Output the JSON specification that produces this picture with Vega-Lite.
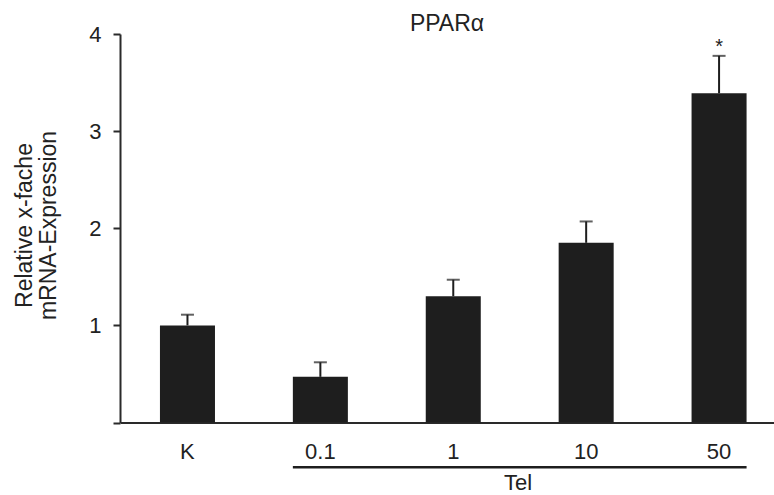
{
  "$schema": "https://vega.github.io/schema/vega-lite/v6.json",
  "autosize": "none",
  "width": 654,
  "height": 388.5,
  "padding": {"left": 120, "top": 34, "right": 0, "bottom": 72.5},
  "background": "white",
  "config": {
    "view": {"stroke": null},
    "font": "Liberation Sans",
    "title": {"font": "Liberation Sans", "fontSize": 23, "fontWeight": "normal", "color": "#222222"}
  },
  "title": {"text": "PPARα", "anchor": "middle", "offset": -13},
  "data": {
    "values": [
      {"group": "K", "value": 1.0, "upper": 1.11, "sig": ""},
      {"group": "0.1", "value": 0.47, "upper": 0.62, "sig": ""},
      {"group": "1", "value": 1.3, "upper": 1.47, "sig": ""},
      {"group": "10", "value": 1.85, "upper": 2.07, "sig": ""},
      {"group": "50", "value": 3.39, "upper": 3.775, "sig": "*"}
    ]
  },
  "encoding": {
    "x": {
      "field": "group",
      "type": "nominal",
      "sort": ["K", "0.1", "1", "10", "50"],
      "scale": {"paddingInner": 0.586, "paddingOuter": 0.2535, "align": 0.593},
      "axis": {
        "title": "Tel",
        "titleX": 397.5,
        "titleY": 67,
        "titleBaseline": "alphabetic",
        "titleFont": "Liberation Sans",
        "titleFontSize": 22,
        "titleFontWeight": "normal",
        "titleColor": "#222222",
        "labelAngle": 0,
        "labelFont": "Liberation Sans",
        "labelFontSize": 22,
        "labelColor": "#222222",
        "labelPadding": 19,
        "ticks": false,
        "domainColor": "#2a2a2a",
        "domainWidth": 2
      }
    }
  },
  "layer": [
    {
      "mark": {"type": "bar", "color": "#1e1e1e"},
      "encoding": {
        "y": {
          "field": "value",
          "type": "quantitative",
          "scale": {"domain": [0, 4], "nice": false},
          "axis": {
            "title": ["Relative x-fache", "mRNA-Expression"],
            "titleFont": "Liberation Sans",
            "titleFontSize": 23,
            "titleFontWeight": "normal",
            "titleColor": "#222222",
            "titleLineHeight": 24,
            "titleX": -96,
            "titleY": 191,
            "titleBaseline": "middle",
            "titleAngle": -90,
            "values": [0, 1, 2, 3, 4],
            "format": "d",
            "labelExpr": "datum.value == 0 ? '' : datum.label",
            "labelFont": "Liberation Sans",
            "labelFontSize": 22,
            "labelColor": "#222222",
            "labelPadding": 12,
            "tickSize": 7,
            "tickWidth": 2,
            "tickColor": "#2a2a2a",
            "domainColor": "#2a2a2a",
            "domainWidth": 2,
            "grid": false
          }
        }
      }
    },
    {
      "mark": {"type": "rule", "color": "#1e1e1e", "strokeWidth": 2},
      "encoding": {
        "y": {"field": "value", "type": "quantitative"},
        "y2": {"field": "upper"}
      }
    },
    {
      "mark": {"type": "tick", "color": "#1e1e1e", "orient": "horizontal", "size": 13, "thickness": 2},
      "encoding": {
        "y": {"field": "upper", "type": "quantitative"}
      }
    },
    {
      "mark": {"type": "text", "baseline": "bottom", "dy": 1, "fontSize": 20, "color": "#222222"},
      "encoding": {
        "y": {"field": "upper", "type": "quantitative"},
        "text": {"field": "sig"}
      }
    },
    {
      "data": {"values": [{}]},
      "mark": {"type": "rule", "color": "#1e1e1e", "strokeWidth": 2.5},
      "encoding": {
        "x": {"datum": "0.1", "bandPosition": 0},
        "x2": {"datum": "50", "bandPosition": 1},
        "y": {"datum": -0.46}
      }
    }
  ]
}
